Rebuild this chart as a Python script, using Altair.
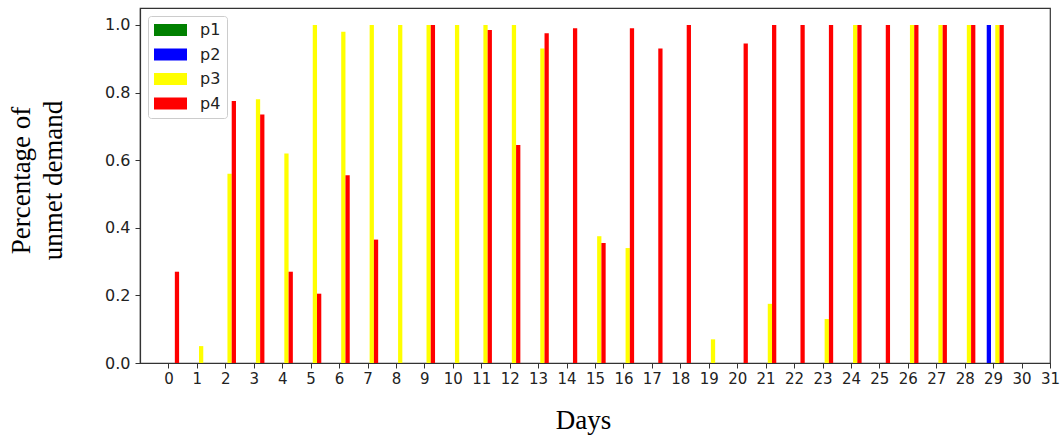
import altair as alt
import pandas as pd

days = list(range(30))
series = ["p1", "p2", "p3", "p4"]
colors = ["#008000", "#0000ff", "#ffff00", "#ff0000"]

p1 = [0, 0, 0, 0, 0, 0, 0, 0, 0, 0, 0, 0, 0, 0, 0, 0, 0, 0, 0, 0, 0, 0, 0, 0, 0, 0, 0, 0, 0, 0]
p2 = [0, 0, 0, 0, 0, 0, 0, 0, 0, 0, 0, 0, 0, 0, 0, 0, 0, 0, 0, 0, 0, 0, 0, 0, 0, 0, 0, 0, 0, 1.0]
p3 = [0, 0.05, 0.56, 0.78, 0.62, 1.0, 0.98, 1.0, 1.0, 1.0, 1.0, 1.0, 1.0, 0.93, 0, 0.375,
      0.34, 0, 0, 0.07, 0, 0.175, 0, 0.13, 1.0, 0, 1.0, 1.0, 1.0, 1.0]
p4 = [0.27, 0, 0.775, 0.735, 0.27, 0.205, 0.555, 0.365, 0, 1.0, 0, 0.985, 0.645, 0.975, 0.99,
      0.355, 0.99, 0.93, 1.0, 0, 0.945, 1.0, 1.0, 1.0, 1.0, 1.0, 1.0, 1.0, 1.0, 1.0]

x_ticks = list(range(32))
y_ticks = [0.0, 0.2, 0.4, 0.6, 0.8, 1.0]

offsets = {"p1": 0.0, "p2": -0.15, "p3": 0.15, "p4": 0.30}
bar_w = 0.15

rows = []
for name, vals in zip(series, [p1, p2, p3, p4]):
    for d, v in zip(days, vals):
        c = d + offsets[name]
        rows.append({"day": d, "series": name, "value": v,
                     "x0": c - bar_w / 2, "x1": c + bar_w / 2})
df = pd.DataFrame(rows)

bars = alt.Chart(df).mark_bar(stroke=None).encode(
    x=alt.X("x0:Q",
            scale=alt.Scale(domain=[-1, 31], nice=False, zero=False),
            axis=alt.Axis(values=x_ticks, format="d", title="Days",
                          titleX=443, titleY=65, titleBaseline="alphabetic",
                          titleAnchor="start", titleAlign="center",
                          labelFontSize=15, labelPadding=3, labelOverlap=False,
                          labelBound=False, labelFlush=False, grid=False)),
    x2="x1:Q",
    y=alt.Y("value:Q", stack=None,
            scale=alt.Scale(domain=[0, 1.05], nice=False),
            axis=alt.Axis(values=y_ticks, format=".1f",
                          title=["Percentage of", "unmet demand"],
                          titleAngle=270, titleAlign="center", titleBaseline="top",
                          titleX=-132, titleY=172, titleLineHeight=32,
                          labelFontSize=16, labelPadding=5, grid=False)),
    y2=alt.datum(0),
    color=alt.Color("series:N",
                    scale=alt.Scale(domain=series, range=colors),
                    legend=alt.Legend(title=None, orient="none", legendX=8, legendY=8,
                                      symbolType="M-1,-0.75H3.125V0.75H-1Z",
                                      symbolSize=256, symbolStrokeWidth=0,
                                      symbolOpacity=1,
                                      labelFont="DejaVu Sans", labelFontSize=16,
                                      labelColor="#222", labelOffset=30,
                                      rowPadding=8.5, padding=6,
                                      fillColor="white", strokeColor="#cccccc",
                                      cornerRadius=3)),
)

chart = bars.properties(
    width=910, height=355,
    autosize=alt.AutoSizeParams(type="none"),
    padding={"left": 140, "top": 8, "right": 13, "bottom": 76},
    background="white",
).configure_view(
    stroke="#333333", strokeWidth=1.2
).configure_axis(
    labelFont="DejaVu Sans", labelColor="#222222",
    titleFont="Liberation Serif", titleFontSize=27, titleFontWeight="normal",
    titleColor="#000000", domainColor="#333333", domainWidth=1.2,
    tickColor="#333333", tickSize=5, tickWidth=1,
)

chart.save("out.html", embed_options={"renderer": "svg", "actions": False})
